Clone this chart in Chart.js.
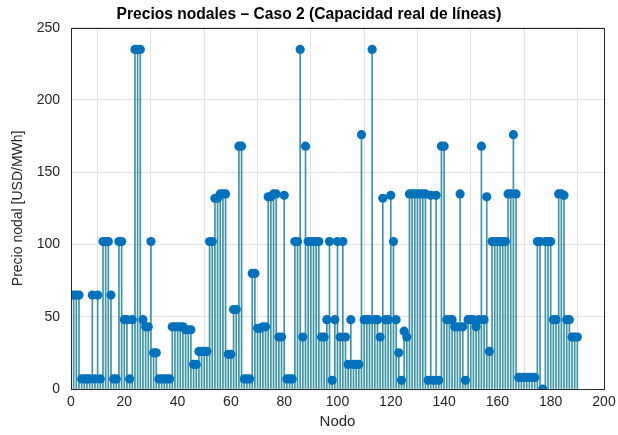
<!DOCTYPE html>
<html>
<head>
<meta charset="utf-8">
<style>
  html, body { margin: 0; padding: 0; background: #fff; }
  #wrap { width: 618px; height: 435px; }
</style>
<script src="https://cdn.jsdelivr.net/npm/chart.js@4.4.1/dist/chart.umd.min.js"></script>
</head>
<body>
<div id="wrap"><canvas id="chart" width="618" height="435"></canvas></div>
<script>
  // nodal prices, node 1..190
  const precios = [
    65, 65, 65, 7, 7, 7, 7, 65, 7, 65,
    7, 102, 102, 102, 65, 7, 7, 102, 102, 48,
    48, 7, 48, 235, 235, 235, 48, 43, 43, 102,
    25, 25, 7, 7, 7, 7, 7, 43, 43, 43,
    43, 43, 41, 41, 41, 17, 17, 26, 26, 26,
    26, 102, 102, 132, 132, 135, 135, 135, 24, 24,
    55, 55, 168, 168, 7, 7, 7, 80, 80, 42,
    42, 43, 43, 133, 133, 135, 135, 36, 36, 134,
    7, 7, 7, 102, 102, 235, 36, 168, 102, 102,
    102, 102, 102, 36, 36, 48, 102, 6, 48, 102,
    36, 102, 36, 17, 48, 17, 17, 17, 176, 48,
    48, 48, 235, 48, 48, 36, 132, 48, 48, 134,
    102, 48, 25, 6, 40, 36, 135, 135, 135, 135,
    135, 135, 135, 6, 134, 6, 134, 6, 168, 168,
    48, 48, 48, 43, 43, 135, 43, 6, 48, 48,
    48, 43, 48, 168, 48, 133, 26, 102, 102, 102,
    102, 102, 102, 135, 135, 176, 135, 8, 8, 8,
    8, 8, 8, 8, 102, 102, 0, 102, 102, 102,
    48, 48, 135, 135, 134, 48, 48, 36, 36, 36
  ];
  const nodos = precios.map((v, i) => i + 1);
  const xTicks = [0, 20, 40, 60, 80, 100, 120, 140, 160, 180, 200];
  const yTicks = [0, 50, 100, 150, 200, 250];

  const puntos = nodos.map((n, i) => ({ x: n, y: precios[i] }));
  const font = "'Liberation Sans', Arial, Helvetica, sans-serif";

  // box around the axes, like matlab
  const frame = {
    id: 'frame',
    afterDraw(c) {
      const a = c.chartArea, ctx = c.ctx;
      ctx.save();
      ctx.strokeStyle = '#262626';
      ctx.lineWidth = 1;
      ctx.strokeRect(Math.round(a.left) + 0.5, Math.round(a.top) + 0.5,
        Math.round(a.right - a.left), Math.round(a.bottom - a.top));
      ctx.restore();
    }
  };

  new Chart(document.getElementById('chart'), {
    data: {
      datasets: [
        {
          type: 'scatter',
          data: puntos,
          showLine: false,
          pointRadius: 4.6,
          pointBackgroundColor: '#0072BD',
          pointBorderWidth: 0,
          order: 0
        },
        {
          type: 'bar',
          data: puntos,
          backgroundColor: '#3b93a6',
          barThickness: 1,
          order: 1
        }
      ]
    },
    options: {
      responsive: false,
      animation: false,
      layout: { padding: 0 },
      plugins: {
        legend: { display: false },
        tooltip: { enabled: false },
        title: {
          display: true,
          text: 'Precios nodales – Caso 2 (Capacidad real de líneas)',
          color: '#000',
          font: { family: font, size: 15.6, weight: 'bold' },
          padding: { top: 5, bottom: 4 }
        }
      },
      scales: {
        x: {
          type: 'linear',
          min: 0, max: 200,
          offset: false,
          afterBuildTicks: s => { s.ticks = xTicks.map(v => ({ value: v })); },
          afterFit: s => { s.height = 46; s.paddingLeft = 0; s.paddingRight = 0; },
          ticks: { color: '#262626', font: { family: font, size: 14 }, padding: 5, maxRotation: 0 },
          grid: { color: '#e3e3e3', drawTicks: false },
          border: { display: false },
          title: { display: true, text: 'Nodo', color: '#262626', font: { family: font, size: 15 }, padding: { top: 3 } }
        },
        y: {
          min: 0, max: 250,
          afterBuildTicks: s => { s.ticks = yTicks.map(v => ({ value: v })); },
          afterFit: s => { s.width = 71; s.paddingTop = 0; s.paddingBottom = 0; },
          ticks: { color: '#262626', font: { family: font, size: 14 }, padding: 11 },
          grid: { color: '#e3e3e3', drawTicks: false },
          border: { display: false },
          title: { display: true, text: 'Precio nodal [USD/MWh]', color: '#262626', font: { family: font, size: 14 }, padding: { top: 10, bottom: 0 } }
        },
        yr: {
          position: 'right',
          min: 0, max: 250,
          display: true,
          afterFit: s => { s.width = 14; },
          ticks: { display: false },
          grid: { display: false, drawTicks: false },
          border: { display: false }
        }
      }
    },
    plugins: [frame]
  });
</script>
</body>
</html>
